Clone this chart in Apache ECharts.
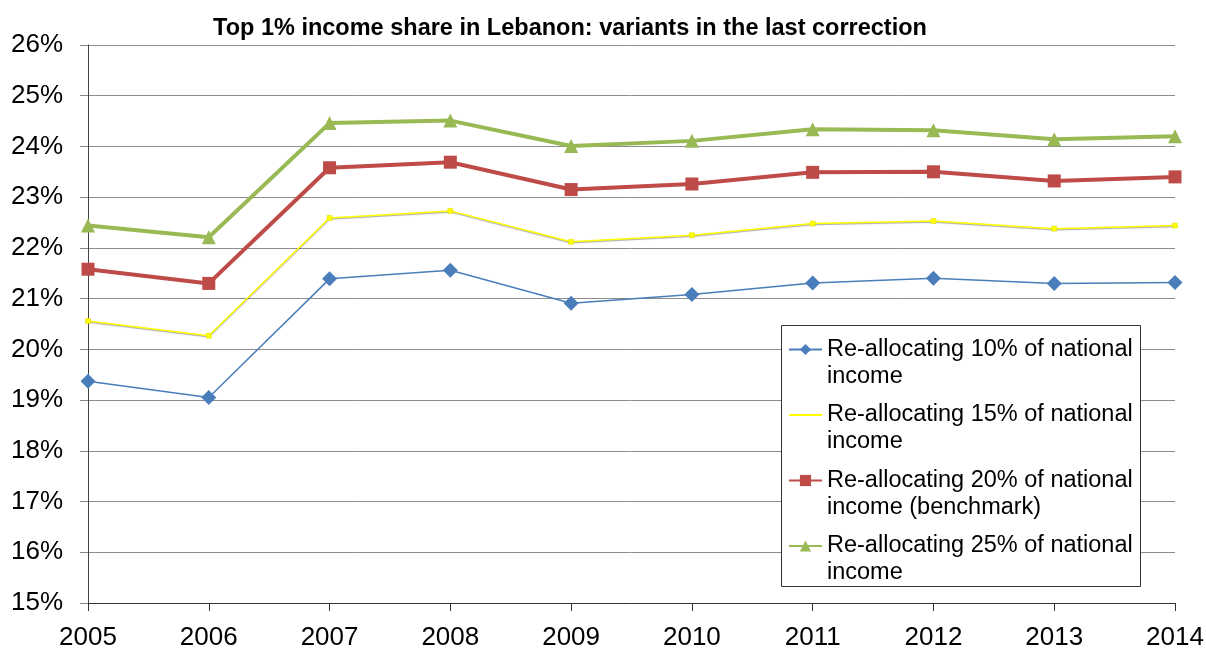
<!DOCTYPE html>
<html>
<head>
<meta charset="utf-8">
<script src="https://cdn.jsdelivr.net/npm/echarts@6/dist/echarts.min.js"></script>
<style>html,body{margin:0;padding:0;background:#fff;}#c{width:1206px;height:649px;}</style>
</head>
<body>
<div id="c"></div>
<script>
var years = ['2005','2006','2007','2008','2009','2010','2011','2012','2013','2014'];
var names = [
  'Re-allocating 10% of national income',
  'Re-allocating 15% of national income',
  'Re-allocating 20% of national income (benchmark)',
  'Re-allocating 25% of national income'
];
var realloc10 = [19.37, 19.05, 21.39, 21.56, 20.91, 21.08, 21.31, 21.40, 21.30, 21.32];
var realloc15 = [20.56, 20.27, 22.59, 22.73, 22.12, 22.25, 22.48, 22.53, 22.38, 22.44];
var realloc20 = [21.58, 21.30, 23.58, 23.69, 23.15, 23.26, 23.49, 23.50, 23.32, 23.40];
var realloc25 = [22.44, 22.21, 24.46, 24.51, 24.01, 24.11, 24.34, 24.32, 24.14, 24.20];

var font = 'Liberation Sans, Arial, sans-serif';
var chart = echarts.init(document.getElementById('c'));
chart.setOption({
  animation: false,
  backgroundColor: '#fff',
  title: {
    text: 'Top 1% income share in Lebanon: variants in the last correction',
    left: 565, top: 12, textAlign: 'center',
    textStyle: {fontFamily: font, fontSize: 23.5, fontWeight: 'bold', color: '#000'}
  },
  grid: {left: 88, right: 31, top: 45, bottom: 46, containLabel: false, outerBoundsMode: 'none'},
  graphic: [{
    type: 'rect', z: 3,
    shape: {x: 781.5, y: 325.5, width: 359, height: 261},
    style: {fill: '#fff', stroke: '#333', lineWidth: 1}
  }],
  legend: {
    orient: 'vertical', z: 4,
    left: 788, top: 309,
    padding: 0,
    itemWidth: 33, itemHeight: 14, itemGap: -15.5,
    data: [
      {name: names[0]},
      {name: names[1], itemStyle: {opacity: 0}},
      {name: names[2]},
      {name: names[3]}
    ],
    formatter: function (n) { return '\n' + n.replace('national ', 'national\n'); },
    textStyle: {fontFamily: font, fontSize: 23.5, color: '#000', lineHeight: 27}
  },
  xAxis: {
    type: 'category', data: years, boundaryGap: false,
    axisLine: {lineStyle: {color: '#333', width: 1}},
    axisTick: {show: true, length: 8, lineStyle: {color: '#333'}},
    axisLabel: {fontFamily: font, fontSize: 26, color: '#000', margin: 22}
  },
  yAxis: {
    type: 'value', min: 15, max: 26, interval: 1,
    axisLine: {show: true, lineStyle: {color: '#444'}},
    axisTick: {show: true, length: 8, lineStyle: {color: '#888'}},
    splitLine: {lineStyle: {color: '#8c8c8c', width: 1}},
    axisLabel: {fontFamily: font, fontSize: 26, color: '#000', margin: 25, formatter: '{value}%'}
  },
  series: [
    {name: names[0], type: 'line', data: realloc10, symbol: 'diamond', symbolSize: 15,
     itemStyle: {color: '#4a7ebb'}, lineStyle: {color: '#4a7ebb', width: 1.5}, z: 2},
    {name: names[1], type: 'line', data: realloc15, symbol: 'rect', symbolSize: 5,
     itemStyle: {color: '#ffff00', borderColor: '#d8d800', borderWidth: 0.5},
     lineStyle: {color: '#ffff00', width: 1.5, shadowColor: 'rgba(0,0,0,0.35)', shadowBlur: 1, shadowOffsetY: 1}, z: 3},
    {name: names[2], type: 'line', data: realloc20, symbol: 'rect', symbolSize: 13,
     itemStyle: {color: '#be4b48'}, lineStyle: {color: '#be4b48', width: 4}, z: 4},
    {name: names[3], type: 'line', data: realloc25, symbol: 'triangle', symbolSize: 14,
     itemStyle: {color: '#98b954'}, lineStyle: {color: '#98b954', width: 4}, z: 5}
  ]
});
</script>
</body>
</html>
